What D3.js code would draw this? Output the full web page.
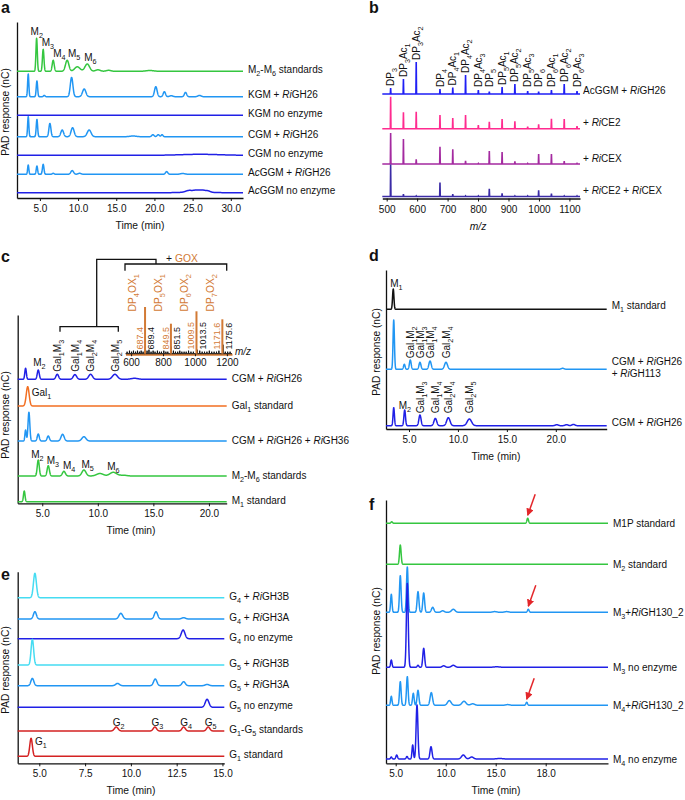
<!DOCTYPE html>
<html>
<head>
<meta charset="utf-8">
<script src="https://cdn.jsdelivr.net/npm/d3@7"></script>
<style>
body { margin: 0; background: #fff; }
text { font-family: "Liberation Sans", Arial, Helvetica, sans-serif; }
</style>
</head>
<body>
<svg id="fig" width="685" height="800"></svg>
<script>
// ---------- data: panel a (peaks are [time min, height, width min]) ----------
var aTicks = [5, 10, 15, 20, 25, 30];
var aTickText = ["5.0", "10.0", "15.0", "20.0", "25.0", "30.0"];
var aNames = ["M<sub>2</sub>-M<sub>6</sub> standards", "KGM + <i>Ri</i>GH26", "KGM no enzyme",
  "CGM + <i>Ri</i>GH26", "CGM no enzyme", "A<i>c</i>GGM + <i>Ri</i>GH26", "A<i>c</i>GGM no enzyme"];
var aStd = [[4.57, 33, 0.09], [5.43, 22, 0.1], [6.74, 11, 0.13], [8.57, 11, 0.22], [9.9, 4.5, 0.35],
  [11.2, 7.3, 0.3], [12.6, 1.5, 0.3], [14.0, 1, 0.3], [19.4, 0.8, 0.5]];
var aKgm = [[3.47, 22.7, 0.08], [4.61, 15.7, 0.09], [5.57, 1.3, 0.1], [9.15, 19.3, 0.17], [10.8, 7.7, 0.22],
  [20.18, 10, 0.17], [21.3, 5, 0.15], [22.2, 1, 0.2], [24.07, 4.3, 0.15], [25.9, 1.3, 0.2]];
var aKgmNo = [];
var aCgm = [[3.47, 20, 0.08], [4.61, 17.3, 0.09], [6.31, 13.3, 0.13], [7.92, 6.7, 0.18], [9.28, 9, 0.2],
  [11.45, 6.7, 0.25], [17.2, 0.7, 0.4], [19.8, 2, 0.15], [20.5, 2, 0.15], [21.0, 2, 0.12]];
var aCgmNo = [[26, 1, 2.5]];
var aAc = [[3.47, 9.3, 0.08], [4.61, 8.3, 0.09], [5.43, 10, 0.1], [6.74, 1, 0.12], [9.23, 3.7, 0.18],
  [10.2, 1, 0.2], [21.6, 2.7, 0.15], [23.7, 0.8, 0.3]];
var aAcNo = [[24.5, 1.6, 0.4], [25.5, 1.8, 0.4], [26.3, 1.7, 0.35], [27.0, 1.3, 0.3], [25.5, 0.8, 1.5]];
var aPeakText = ["M<sub>2</sub>", "M<sub>3</sub>", "M<sub>4</sub>", "M<sub>5</sub>", "M<sub>6</sub>"];
var aPeakIdx = [0, 1, 2, 3, 5];

// ---------- data: panel b (MALDI m/z sticks) ----------
var bTicks = [500, 600, 700, 800, 900, 1000, 1100];
var bIons = ["DP<sub>3</sub>", "DP<sub>3</sub>Ac<sub>1</sub>", "DP<sub>3</sub>Ac<sub>2</sub>", "DP<sub>4</sub>",
  "DP<sub>4</sub>Ac<sub>1</sub>", "DP<sub>4</sub>Ac<sub>2</sub>", "DP<sub>4</sub>Ac<sub>3</sub>", "DP<sub>5</sub>",
  "DP<sub>5</sub>Ac<sub>1</sub>", "DP<sub>5</sub>Ac<sub>2</sub>", "DP<sub>5</sub>Ac<sub>3</sub>", "DP<sub>6</sub>",
  "DP<sub>6</sub>Ac<sub>1</sub>", "DP<sub>6</sub>Ac<sub>2</sub>", "DP<sub>6</sub>Ac<sub>3</sub>"];
var bMz = [513, 555, 597, 675, 717, 759, 801, 837, 879, 921, 963, 999, 1041, 1083, 1125];
var bGH26 = [6, 15, 32, 5, 6.5, 19, 4, 2.5, 7, 10, 3, 2.5, 4, 10, 3];
var bCE2 = [32, 16.4, 17, 13.7, 10.7, 13.7, 3.7, 7, 9.7, 7.4, 2, 4.4, 10, 9.7, 2.7];
var bCEX = [31, 25, 4.7, 17.3, 14.7, 3.3, 0.5, 13, 12, 2.7, 0.5, 10, 10, 3, 0.5];
var bBoth = [32, 2.3, 0.5, 14, 2.3, 0.5, 0.5, 7.7, 3.3, 0.5, 0.5, 6.3, 3, 0.5, 0.5];
var bNames = ["AcGGM + <i>Ri</i>GH26", "+ <i>Ri</i>CE2", "+ <i>Ri</i>CEX", "+ <i>Ri</i>CE2 + <i>Ri</i>CEX"];

// ---------- data: panel c ----------
var cTicks = [5, 10, 15, 20];
var cTickText = ["5.0", "10.0", "15.0", "20.0"];
var cNames = ["CGM + <i>Ri</i>GH26", "Gal<sub>1</sub> standard", "CGM + <i>Ri</i>GH26 + <i>Ri</i>GH36",
  "M<sub>2</sub>-M<sub>6</sub> standards", "M<sub>1</sub> standard"];
var cCgm = [[3.5, 11, 0.07], [4.64, 9.3, 0.09], [6.35, 5, 0.12], [7.94, 4.7, 0.15], [9.35, 5, 0.17],
  [11.54, 5, 0.22], [13.3, 1, 0.3]];
var cGal = [[3.69, 19.3, 0.13]];
var cCgm36 = [[3.5, 11, 0.06], [3.8, 28.7, 0.08], [4.64, 7, 0.09], [5.54, 5, 0.1], [6.83, 6.7, 0.14],
  [8.75, 4.3, 0.18]];
var cStd = [[4.64, 16, 0.09], [5.54, 10.3, 0.1], [6.95, 4.7, 0.13], [8.75, 6, 0.18], [10.19, 2.5, 0.3],
  [11.39, 3.7, 0.3], [12.3, 0.8, 0.3]];
var cM1 = [[3.38, 10.7, 0.07]];
var cGalText = ["Gal<sub>1</sub>M<sub>3</sub>", "Gal<sub>1</sub>M<sub>4</sub>", "Gal<sub>2</sub>M<sub>4</sub>", "Gal<sub>2</sub>M<sub>5</sub>"];
var cGalIdx = [2, 3, 4, 5];
var cStdIdx = [0, 1, 2, 3, 5];
// inset MS after GOX
var cMsTicks = [600, 800, 1000, 1200];
var cOxMz = [687.4, 849.5, 1009.5, 1171.6];
var cOxH = [46.7, 30, 42.4, 34.4];
var cOxText = ["DP<sub>4</sub>OX<sub>1</sub>", "DP<sub>5</sub>OX<sub>1</sub>", "DP<sub>6</sub>OX<sub>2</sub>", "DP<sub>7</sub>OX<sub>2</sub>"];
var cOxVal = ["687.4", "849.5", "1009.5", "1171.6"];
var cNatMz = [689.4, 851.5, 1013.5, 1175.6];
var cNatH = [6, 7, 4, 9];
var cNatVal = ["689.4", "851.5", "1013.5", "1175.6"];
var cNoise = [[575, 2], [590, 3], [603, 2], [615, 3], [628, 2], [640, 3], [652, 2], [663, 3], [675, 2],
  [700, 3], [712, 4], [725, 2], [738, 3], [750, 2], [765, 3], [778, 2], [790, 2], [805, 3], [818, 2],
  [830, 2], [865, 3], [878, 2], [892, 2], [905, 3], [918, 2], [932, 2], [945, 2], [960, 3], [975, 2],
  [990, 2], [1030, 3], [1045, 2], [1060, 2], [1075, 2], [1090, 3], [1105, 2], [1120, 2], [1135, 2],
  [1150, 3], [1190, 2], [1205, 2], [1220, 2]];

// ---------- data: panel d ----------
var dTicks = [5, 10, 15, 20];
var dTickText = ["5.0", "10.0", "15.0", "20.0"];
var dNames = ["M<sub>1</sub> standard", "CGM + <i>Ri</i>GH26|+ <i>Ri</i>GH113", "CGM + <i>Ri</i>GH26"];
var dM1 = [[3.39, 20.3, 0.07]];
var dCgm113 = [[3.44, 49.3, 0.07], [4.52, 5, 0.08], [5.13, 9.3, 0.09], [6.12, 7, 0.1], [7.15, 8.3, 0.12],
  [8.78, 7, 0.15], [20.7, 1, 0.15]];
var dCgm = [[3.44, 18, 0.07], [4.56, 15.7, 0.08], [6.12, 10.7, 0.11], [7.69, 7.3, 0.14], [9.02, 8, 0.17],
  [11.17, 6.7, 0.22], [20.1, 1, 0.15], [21.1, 1, 0.15], [21.8, 1.3, 0.15]];
var d113Text = ["Gal<sub>1</sub>M<sub>2</sub>", "Gal<sub>1</sub>M<sub>3</sub>", "Gal<sub>1</sub>M<sub>4</sub>", "Gal<sub>2</sub>M<sub>4</sub>"];
var d113Idx = [2, 3, 4, 5];
var dCgmText = ["Gal<sub>1</sub>M<sub>3</sub>", "Gal<sub>1</sub>M<sub>4</sub>", "Gal<sub>2</sub>M<sub>4</sub>", "Gal<sub>2</sub>M<sub>5</sub>"];
var dCgmIdx = [2, 3, 4, 5];

// ---------- data: panel e ----------
var eTicks = [5, 7.5, 10, 12.5, 15];
var eTickText = ["5.0", "7.5", "10.0", "12.5", "15.0"];
var eNames = ["G<sub>4</sub> + <i>Ri</i>GH3B", "G<sub>4</sub> + <i>Ri</i>GH3A", "G<sub>4</sub> no enzyme",
  "G<sub>5</sub> + <i>Ri</i>GH3B", "G<sub>5</sub> + <i>Ri</i>GH3A", "G<sub>5</sub> no enzyme",
  "G<sub>1</sub>-G<sub>5</sub> standards", "G<sub>1</sub> standard"];
var eG4B = [[4.76, 24.4, 0.08]];
var eG4A = [[4.76, 7.3, 0.08], [9.45, 5.7, 0.1], [11.37, 7.3, 0.09], [12.88, 1.3, 0.1]];
var eG4No = [[12.85, 8.7, 0.1]];
var eG5B = [[4.62, 25.7, 0.07]];
var eG5A = [[4.62, 7.3, 0.08], [9.27, 2.3, 0.1], [11.33, 6.7, 0.09], [12.88, 4, 0.09], [14.16, 1.3, 0.1]];
var eG5No = [[14.16, 8, 0.1]];
var eStd = [[9.2, 4, 0.1], [11.31, 4, 0.09], [12.88, 4, 0.09], [14.22, 4, 0.09]];
var eG1 = [[4.55, 18, 0.07]];
var eStdText = ["G<sub>2</sub>", "G<sub>3</sub>", "G<sub>4</sub>", "G<sub>5</sub>"];

// ---------- data: panel f ----------
var fTicks = [5, 10, 15, 20];
var fTickText = ["5.0", "10.0", "15.0", "18.0"];
var fNames = ["M1P standard", "M<sub>2</sub> standard", "M<sub>3</sub>+<i>Ri</i>GH130_2", "M<sub>3</sub> no enzyme",
  "M<sub>4</sub>+<i>Ri</i>GH130_2", "M<sub>4</sub> no enzyme"];
var fM1P = [[4.6, 1.5, 0.08], [18.2, 5, 0.08]];
var fM2 = [[5.46, 19.3, 0.08]];
var fM3Enz = [[4.56, 18, 0.07], [5.46, 36.7, 0.08], [6.16, 45.3, 0.08], [7.23, 20.7, 0.09], [7.8, 19.3, 0.09],
  [8.7, 5, 0.12], [9.7, 1.5, 0.15], [10.76, 3, 0.18], [14.9, 0.7, 0.2], [16.1, 0.7, 0.2], [18.26, 3, 0.08]];
var fM3No = [[4.56, 7.3, 0.07], [6.16, 84, 0.09], [7.23, 2, 0.08], [7.8, 19, 0.09], [9.8, 1.5, 0.15],
  [10.76, 2, 0.18], [15.1, 0.5, 0.3]];
var fM4Enz = [[4.56, 9, 0.07], [5.46, 23.7, 0.08], [6.16, 28.7, 0.08], [6.76, 12, 0.08], [7.23, 15, 0.09],
  [8.56, 12.7, 0.12], [10.36, 4.7, 0.18], [11.83, 4, 0.2], [12.7, 1.5, 0.2], [16.2, 0.7, 0.2], [18.1, 3, 0.08]];
var fM4No = [[4.56, 2, 0.07], [5.1, 4, 0.08], [6.13, 2.5, 0.08], [6.7, 14, 0.07], [7.13, 54, 0.09],
  [8.53, 12.3, 0.1], [11.76, 4, 0.18], [12.6, 2, 0.18], [15.4, 0.5, 0.3]];
var fArrowTraces = [0, 2, 4];

// ---------- colours ----------
var GREEN = "#35c640", LBLUE = "#2196f3", BLUE = "#2020e6", CYAN = "#45dcf2",
  RED = "#d42222", ORANGE = "#f26f22", GOX = "#d27a35", INK = "#111";
var LABEL = 10;

var svg = d3.select("#fig");
svg.append("defs").append("marker").attr("id", "arr").attr("viewBox", "0 0 10 10")
  .attr("refX", 9).attr("refY", 5).attr("markerWidth", 5).attr("markerHeight", 5)
  .attr("orient", "auto").append("path").attr("d", "M0,0L10,5L0,10z").attr("fill", "#e3262a");

// text with <i> and <sub> markup
function rich(text, str, size) {
  var parts = str.split(/(<i>[^<]*<\/i>|<sub>[^<]*<\/sub>)/).filter(function (s) { return s !== ""; });
  var low = false;
  parts.forEach(function (p) {
    var span = text.append("tspan");
    if (p.indexOf("<sub>") === 0) {
      span.text(p.slice(5, -6)).attr("font-size", size * 0.72);
      if (!low) span.attr("dy", size * 0.3);
      low = true;
    } else {
      if (p.indexOf("<i>") === 0) span.text(p.slice(3, -4)).attr("font-style", "italic");
      else span.text(p);
      if (low) { span.attr("dy", -size * 0.3); low = false; }
    }
  });
  return text;
}

function addText(x, y, str, size, color, anchor) {
  var t = svg.append("text").attr("x", x).attr("y", y).attr("font-size", size)
    .attr("fill", color || INK).attr("text-anchor", anchor || "start");
  return rich(t, str, size);
}

function rotText(cx, bottom, str, size, color) {
  var t = svg.append("text").attr("transform", "translate(" + (cx + size * 0.36) + "," + bottom + ") rotate(-90)")
    .attr("font-size", size).attr("fill", color || INK);
  return rich(t, str, size);
}

function styleAxis(g) {
  g.selectAll("path.domain").attr("stroke", INK).attr("stroke-width", 1.3);
  g.selectAll(".tick line").attr("stroke", INK).attr("stroke-width", 1);
  g.selectAll(".tick text").attr("font-size", 10).attr("fill", INK)
    .attr("font-family", "'Liberation Sans', Arial, sans-serif");
}

function signal(peaks, t) {
  var v = 0;
  peaks.forEach(function (p) { var z = (t - p[0]) / p[2]; v += p[1] * Math.exp(-0.5 * z * z); });
  return v;
}

// one chromatogram panel
function chromPanel(cfg) {
  var x = d3.scaleLinear().domain(cfg.domain).range(cfg.range);
  var yAx = d3.scaleLinear().domain([0, 1]).range([cfg.axisY, cfg.top]);
  styleAxis(svg.append("g").attr("transform", "translate(" + cfg.range[0] + ",0)")
    .call(d3.axisLeft(yAx).tickValues([]).tickSizeOuter(0)));
  styleAxis(svg.append("g").attr("transform", "translate(0," + cfg.axisY + ")")
    .call(d3.axisBottom(x).tickValues(cfg.ticks).tickFormat(function (d, i) { return cfg.tickText[i]; })
      .tickSize(3).tickSizeOuter(0).tickPadding(4)));
  addText(cfg.titleX, cfg.axisY + 31, "Time (min)", 10.3, INK, "middle");
  svg.append("text").attr("transform", "translate(" + cfg.yTitleX + "," + cfg.yTitleY + ") rotate(-90)")
    .attr("text-anchor", "middle").attr("font-size", 10.2).attr("fill", INK).text("PAD response (nC)");
  svg.append("text").attr("x", cfg.letter[0]).attr("y", cfg.letter[1]).attr("font-size", 16)
    .attr("font-weight", "bold").attr("fill", INK).text(cfg.name);

  var n = Math.round((cfg.range[1] - cfg.range[0]) * 8);
  var ys = cfg.traces.map(function (tr, k) {
    var y = d3.scaleLinear().domain([0, 1]).range([tr.base, tr.base - 1]);
    var pts = d3.range(n + 1).map(function (i) {
      var t = cfg.domain[0] + (cfg.domain[1] - cfg.domain[0]) * i / n;
      return [t, signal(tr.peaks, t)];
    });
    svg.append("path").attr("d", d3.line().x(function (d) { return x(d[0]); }).y(function (d) { return y(d[1]); })(pts))
      .attr("fill", "none").attr("stroke", tr.color).attr("stroke-width", 1.5).attr("stroke-linejoin", "round");
    var lines = cfg.names[k].split("|");
    lines.forEach(function (s, j) {
      addText(cfg.range[1] + 5, tr.base + cfg.labelDy + 3.6 + j * 12.5 - (lines.length - 1) * 4.5, s, LABEL);
    });
    return y;
  });
  return { x: x, ys: ys };
}

function peakLabels(P, k, peaks, idx, names, dx, dy, color) {
  idx.forEach(function (pi, j) {
    var ox = Array.isArray(dx) ? dx[j] : dx;
    addText(P.x(peaks[pi][0]) + ox, P.ys[k](peaks[pi][1]) + dy, names[j], LABEL, color);
  });
}

function rotLabels(P, k, peaks, idx, names, lift) {
  idx.forEach(function (pi, j) {
    rotText(P.x(peaks[pi][0]), P.ys[k](0) - lift, names[j], 10);
  });
}

// ---------- panel a ----------
var A = chromPanel({
  name: "a", letter: [1, 12.5], domain: [2, 31.6], range: [17, 243], top: 22, axisY: 198,
  ticks: aTicks, tickText: aTickText, titleX: 140, yTitleX: 9, yTitleY: 112, names: aNames, labelDy: -2,
  traces: [
    { peaks: aStd, base: 71.3, color: GREEN }, { peaks: aKgm, base: 96.7, color: LBLUE },
    { peaks: aKgmNo, base: 115.3, color: BLUE }, { peaks: aCgm, base: 136.7, color: LBLUE },
    { peaks: aCgmNo, base: 155.3, color: BLUE }, { peaks: aAc, base: 174.3, color: LBLUE },
    { peaks: aAcNo, base: 192.7, color: BLUE }]
});
peakLabels(A, 0, aStd, aPeakIdx, aPeakText, [-6, -1.5, 0, 0.8, -3], -3);

// ---------- panel b ----------
var bX = d3.scaleLinear().domain([485.6, 1134.8]).range([382.3, 580]);
var bBases = [94, 128.7, 164, 196.5];
var bColors = ["#1f1ff5", "#ff2b8f", "#a42aa0", "#3b2ba6"];
[bGH26, bCE2, bCEX, bBoth].forEach(function (h, k) {
  var y = d3.scaleLinear().domain([0, 1]).range([bBases[k], bBases[k] - 1]);
  var pts = [[bX.domain()[0], 0]];
  bMz.forEach(function (m, i) { pts.push([m - 1, 0], [m, h[i]], [m + 1, 0]); });
  pts.push([bX.domain()[1], 0]);
  svg.append("path").attr("d", d3.line().x(function (d) { return bX(d[0]); }).y(function (d) { return y(d[1]); })(pts))
    .attr("fill", "none").attr("stroke", bColors[k]).attr("stroke-width", 1.6);
  addText(583, bBases[k] + (k === 0 ? -4 : -6) + 3.6, bNames[k], LABEL);
  if (k === 0) {
    bMz.forEach(function (m, i) {
      rotText(bX(m), Math.min(y(0) - 7, y(h[i]) - 2), bIons[i], 10);
    });
  }
});
styleAxis(svg.append("g").attr("transform", "translate(0,198.5)")
  .call(d3.axisBottom(bX).tickValues(bTicks).tickFormat(d3.format("d")).tickSize(3).tickSizeOuter(0).tickPadding(4)));
svg.append("text").attr("x", 478).attr("y", 230).attr("text-anchor", "middle").attr("font-size", 10.3)
  .attr("font-style", "italic").attr("fill", INK).text("m/z");
svg.append("text").attr("x", 369).attr("y", 12.5).attr("font-size", 16).attr("font-weight", "bold")
  .attr("fill", INK).text("b");

// ---------- panel c ----------
var C = chromPanel({
  name: "c", letter: [1, 261.5], domain: [2.79, 21.6], range: [17.7, 226.7], top: 315, axisY: 503.3,
  ticks: cTicks, tickText: cTickText, titleX: 131, yTitleX: 9, yTitleY: 415, names: cNames, labelDy: -1,
  traces: [
    { peaks: cCgm, base: 379.3, color: BLUE }, { peaks: cGal, base: 406, color: ORANGE },
    { peaks: cCgm36, base: 441, color: LBLUE }, { peaks: cStd, base: 476, color: GREEN },
    { peaks: cM1, base: 501.7, color: GREEN }]
});
peakLabels(C, 0, cCgm, [1], ["M<sub>2</sub>"], -5, -4);
rotLabels(C, 0, cCgm, cGalIdx, cGalText, 7.6);
peakLabels(C, 1, cGal, [0], ["Gal<sub>1</sub>"], 4, 9.5);
peakLabels(C, 3, cStd, cStdIdx, ["M<sub>2</sub>", "M<sub>3</sub>", "M<sub>4</sub>", "M<sub>5</sub>", "M<sub>6</sub>"],
  [-7, -1.5, -1, -2.5, -6], -2);

// brackets and + GOX
var brk = svg.append("g").attr("fill", "none").attr("stroke", INK).attr("stroke-width", 1.3);
brk.append("path").attr("d", "M60,331.7V326.7H118.3V331.7");
brk.append("path").attr("d", "M96.7,326.7V259.3H156V264");
brk.append("path").attr("d", "M125,270.7V264H226.7V270.7");
var gox = svg.append("text").attr("x", 166).attr("y", 262).attr("font-size", 10.3);
gox.append("tspan").attr("fill", INK).text("+ ");
gox.append("tspan").attr("fill", GOX).text("GOX");

// inset spectrum
var iX = d3.scaleLinear().domain([565, 1232]).range([125.5, 232]);
var iY = d3.scaleLinear().domain([0, 1]).range([353.7, 352.7]);
var noisePts = [[565, 0]];
cNoise.concat(cNatMz.map(function (m, i) { return [m, cNatH[i]]; }))
  .sort(function (a, b) { return a[0] - b[0]; })
  .forEach(function (p) { noisePts.push([p[0] - 1.5, 0], [p[0], p[1]], [p[0] + 1.5, 0]); });
noisePts.push([1232, 0]);
var iAx = svg.append("g").attr("transform", "translate(0,354.2)")
  .call(d3.axisBottom(iX).tickValues(cMsTicks).tickFormat(d3.format("d")).tickSize(2).tickSizeOuter(0).tickPadding(3));
styleAxis(iAx);
iAx.select("path.domain").attr("stroke", GOX).attr("stroke-width", 2);
svg.append("path").attr("d", d3.line().x(function (d) { return iX(d[0]); }).y(function (d) { return iY(d[1]); })(noisePts))
  .attr("fill", "none").attr("stroke", INK).attr("stroke-width", 1);
cOxMz.forEach(function (m, i) {
  svg.append("line").attr("x1", iX(m)).attr("x2", iX(m)).attr("y1", iY(0)).attr("y2", iY(cOxH[i]))
    .attr("stroke", GOX).attr("stroke-width", 2);
  rotText(iX(m) - 12.5, 311.5, cOxText[i], 10.3, GOX);
  rotText(iX(m) - 5.5, 349.5, cOxVal[i], 9, GOX);
  rotText(iX(cNatMz[i]) + 5.3, 349.5, cNatVal[i], 9, INK);
});
svg.append("text").attr("x", 235).attr("y", 355).attr("font-size", 10).attr("font-style", "italic")
  .attr("fill", INK).text("m/z");

// ---------- panel d ----------
var D = chromPanel({
  name: "d", letter: [369, 261], domain: [2.65, 25.2], range: [386, 606.7], top: 270, axisY: 429,
  ticks: dTicks, tickText: dTickText, titleX: 496, yTitleX: 380, yTitleY: 352, names: dNames, labelDy: -3.5,
  traces: [
    { peaks: dM1, base: 309.3, color: INK }, { peaks: dCgm113, base: 369.3, color: LBLUE },
    { peaks: dCgm, base: 425.7, color: BLUE }]
});
peakLabels(D, 0, dM1, [0], ["M<sub>1</sub>"], -3, -2);
rotLabels(D, 1, dCgm113, d113Idx, d113Text, 11);
peakLabels(D, 2, dCgm, [1], ["M<sub>2</sub>"], -6, -1);
rotLabels(D, 2, dCgm, dCgmIdx, dCgmText, 12.4);

// ---------- panel e ----------
var E = chromPanel({
  name: "e", letter: [1, 580], domain: [3.82, 15.1], range: [17.7, 224.3], top: 571.7, axisY: 763.3,
  ticks: eTicks, tickText: eTickText, titleX: 131, yTitleX: 9, yTitleY: 670, names: eNames, labelDy: -1.5,
  traces: [
    { peaks: eG4B, base: 597.7, color: CYAN }, { peaks: eG4A, base: 619, color: LBLUE },
    { peaks: eG4No, base: 638.7, color: BLUE }, { peaks: eG5B, base: 665, color: CYAN },
    { peaks: eG5A, base: 685.7, color: LBLUE }, { peaks: eG5No, base: 707.3, color: BLUE },
    { peaks: eStd, base: 731, color: RED }, { peaks: eG1, base: 756.3, color: RED }]
});
peakLabels(E, 6, eStd, [0, 1, 2, 3], eStdText, -3.5, -1.5);
peakLabels(E, 7, eG1, [0], ["G<sub>1</sub>"], 4, 7);

// ---------- panel f ----------
var fSeries = [fM1P, fM2, fM3Enz, fM3No, fM4Enz, fM4No];
var F = chromPanel({
  name: "f", letter: [369, 510], domain: [4.03, 26.23], range: [386, 608], top: 500, axisY: 763.3,
  ticks: fTicks, tickText: fTickText, titleX: 496, yTitleX: 380, yTitleY: 631, names: fNames, labelDy: 0,
  traces: [
    { peaks: fM1P, base: 523.3, color: GREEN }, { peaks: fM2, base: 564.3, color: GREEN },
    { peaks: fM3Enz, base: 612.3, color: LBLUE }, { peaks: fM3No, base: 667.3, color: BLUE },
    { peaks: fM4Enz, base: 705.3, color: LBLUE }, { peaks: fM4No, base: 759, color: BLUE }]
});
fArrowTraces.forEach(function (k) {
  var p = fSeries[k][fSeries[k].length - 1];
  var xe = F.x(p[0]), ye = F.ys[k](p[1]) - 3;
  svg.append("line").attr("x1", xe + 7.5).attr("y1", ye - 21).attr("x2", xe).attr("y2", ye)
    .attr("stroke", "#e3262a").attr("stroke-width", 1.5).attr("marker-end", "url(#arr)");
});
</script>
</body>
</html>
